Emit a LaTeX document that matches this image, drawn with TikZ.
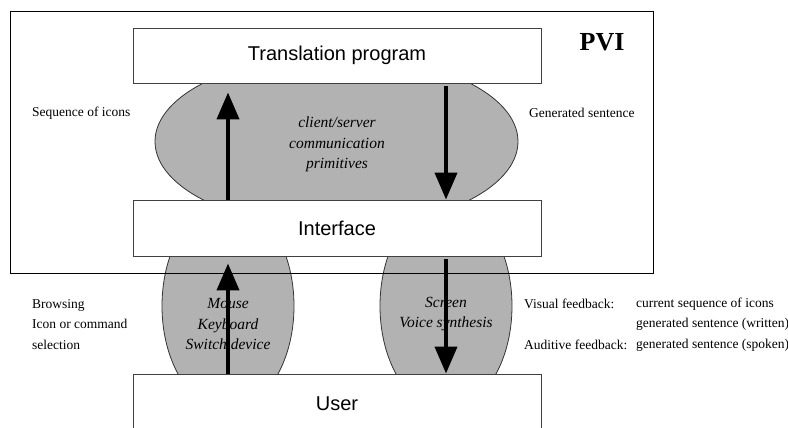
\documentclass[tikz,border=0pt]{standalone}
\usepackage{fontspec}
\setmainfont{Liberation Serif}
\setsansfont{Liberation Sans}
\usetikzlibrary{shapes.geometric,arrows.meta}

\begin{document}
\begin{tikzpicture}[x=1pt,y=-1pt]
  \tikzstyle{every node}=[inner sep=0pt];
  \tikzstyle{layer}=[draw=black!75,fill=white,line width=0.9pt,minimum width=408pt,font=\sffamily\fontsize{20}{24}\selectfont];
  \tikzstyle{channel}=[draw=black!80,fill=black!30,ellipse,line width=0.8pt];
  \tikzstyle{media}=[align=center,font=\itshape\fontsize{15.5}{20.5}\selectfont];
  \tikzstyle{note}=[anchor=west,align=left,font=\fontsize{13.5}{20.5}\selectfont];
  \tikzstyle{flow}=[line width=4pt,-{Triangle[length=27pt,width=22pt]}];
  \useasboundingbox (0,0) rectangle (788,428);

  % channels between the layers
  \node at (336.5,141.5) (prims) [channel,minimum width=363pt,minimum height=172pt] {};
  \node at (228,306) (input) [channel,minimum width=132pt,minimum height=208pt] {};
  \node at (446,306) (output) [channel,minimum width=132pt,minimum height=208pt] {};

  % PVI frame
  \node at (331.5,142) (pvi) [draw,line width=0.9pt,minimum width=643pt,minimum height=262pt] {};
  \node at (602,42) (pvitag) [font=\bfseries\fontsize{26}{30}\selectfont] {PVI};

  \node at (337,55.5) (trans) [layer,minimum height=55pt] {Translation program};
  \node at (337,228) (iface) [layer,minimum height=56pt] {Interface};
  \node at (337,404) (user) [layer,minimum height=60pt] {User};

  \node at (337,144.5) (primstxt) [media] {client/server\\communication\\primitives};
  \node at (228,324.5) (inputtxt) [media] {Mouse\\Keyboard\\Switch device};
  \node at (446,314) (outputtxt) [media] {Screen\\Voice synthesis};

  \node at (32,113) (seqicons) [note] {Sequence of icons};
  \node at (529,113) (gensent) [note] {Generated sentence};
  \node at (32,324.5) (browse) [note] {Browsing\\Icon or command\\selection};
  \node at (524,304) (visual) [note] {Visual feedback:};
  \node at (524,345) (auditive) [note] {Auditive feedback:};
  \node at (636,324.5) (feedback) [note] {current sequence of icons\\generated sentence (written)\\generated sentence (spoken)};

  % arrows
  \coordinate (up) at (228,0);
  \coordinate (down) at (446,0);
  \draw[flow,shorten >=9pt] (iface.north -| up) -- (trans.south -| up);
  \draw[flow,shorten <=3pt] (trans.south -| down) -- (iface.north -| down);
  \draw[flow,shorten >=7pt] (user.north -| up) -- (iface.south -| up);
  \draw[flow,shorten <=3pt] (iface.south -| down) -- (user.north -| down);
\end{tikzpicture}
\end{document}
